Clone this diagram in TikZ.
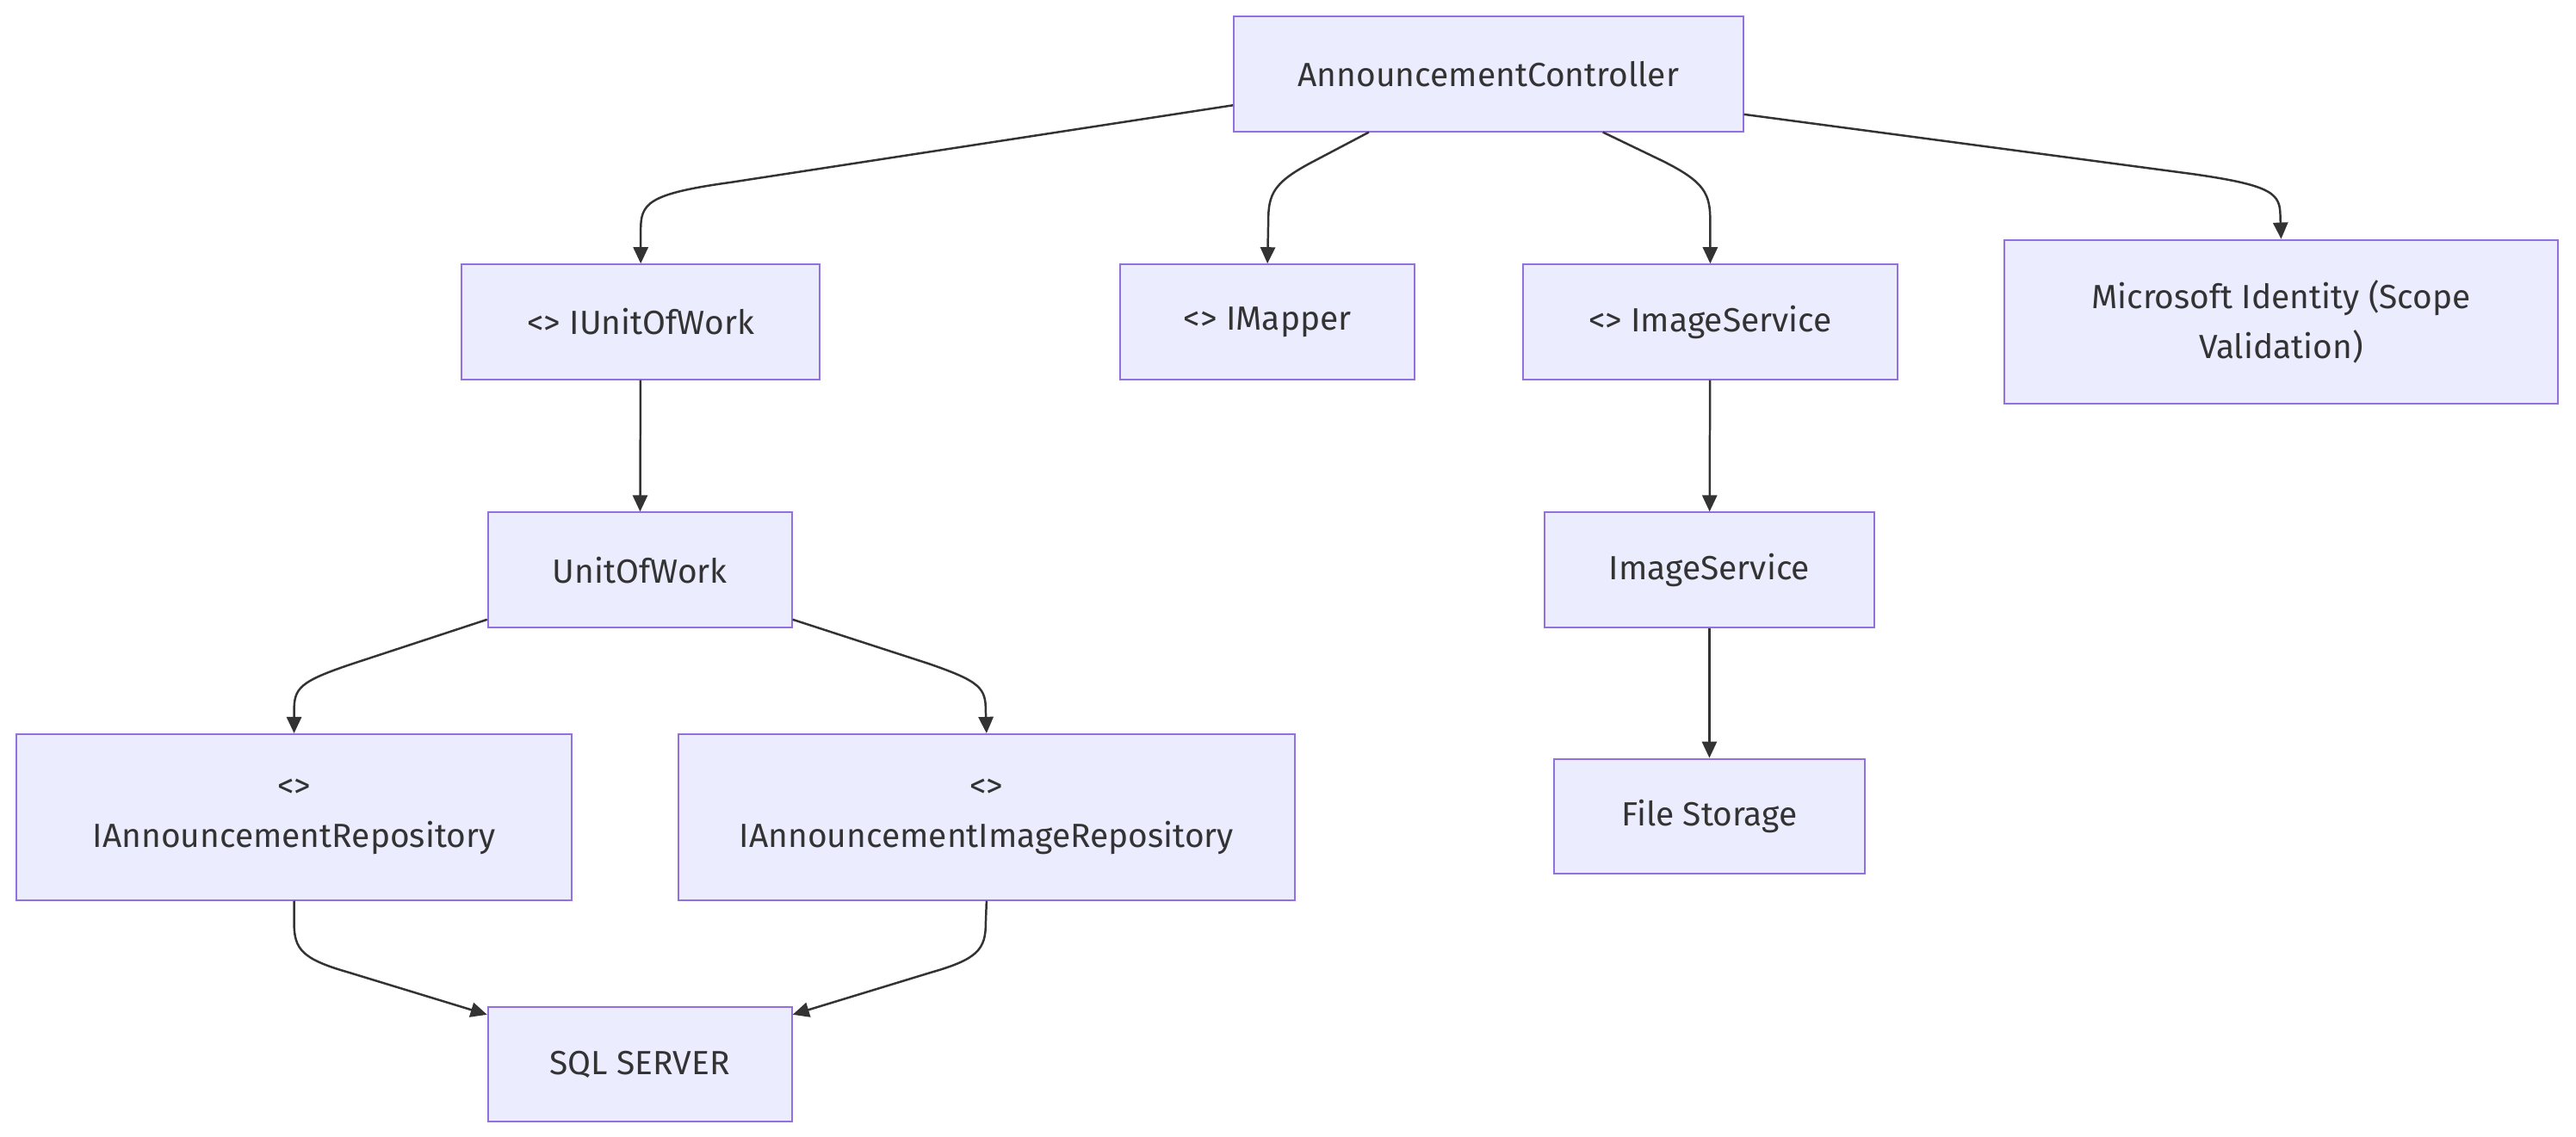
\documentclass[tikz,border=0pt]{standalone}
\usepackage{fontspec}
\setmainfont{Fira Sans}
\usepackage{tikz}
\usetikzlibrary{arrows.meta}
\definecolor{boxfill}{HTML}{ECECFF}
\definecolor{boxline}{HTML}{9370DB}
\definecolor{ink}{HTML}{333333}
\begin{document}
\begin{tikzpicture}[x=1pt, y=-1pt,
		node_style/.style={rectangle,draw=boxline,fill=boxfill,line width=1pt,inner sep=0pt,
			text=ink,align=center,font=\fontsize{20.4}{30.5}\selectfont,minimum height=70pt},
		edge_style/.style={draw=ink,line width=1.3pt,-{Triangle[length=10pt,width=9pt]}}]

		\useasboundingbox[fill=white] (0,0) rectangle (1568,692);

		\node[node_style,minimum width=310pt] (ac) at (906,45)  {AnnouncementController};
		\node[node_style,minimum width=218pt] (iuow) at (390,196)  {<> IUnitOfWork};
		\node[node_style,minimum width=179pt] (imap) at (771.5,196)  {<> IMapper};
		\node[node_style,minimum width=228pt] (iimg) at (1041,196)  {<> ImageService};
		\node[node_style,minimum width=337pt,minimum height=100pt] (msid) at (1388.5,196)  {Microsoft Identity (Scope\\Validation)};
		\node[node_style,minimum width=185pt] (uow) at (389.5,347)  {UnitOfWork};
		\node[node_style,minimum width=201pt] (img) at (1040.5,347)  {ImageService};
		\node[node_style,minimum width=338pt,minimum height=101pt] (iar) at (179,497.5)  {<>\\IAnnouncementRepository};
		\node[node_style,minimum width=375pt,minimum height=101pt] (iair) at (600.5,497.5)  {<>\\IAnnouncementImageRepository};
		\node[node_style,minimum width=189pt] (fs) at (1040.5,497)  {File Storage};
		\node[node_style,minimum width=185pt] (sql) at (389.5,648)  {SQL SERVER};

		\draw[edge_style]  (ac.187.7) -- (445,111) .. controls (394,118) and (390,124) .. (390,140) -- (iuow.north);
		\draw[edge_style]  (ac.206.6) -- (800,98) .. controls (775,111) and (772,118) .. (772,135) -- (imap.north);
		\draw[edge_style]  (ac.333.4) -- (1012,98) .. controls (1038,111) and (1041,118) .. (1041,135) -- (iimg.north);
		\draw[edge_style]  (ac.351.9) -- (1335,106) .. controls (1384,113) and (1388,118) .. (1388,132) -- (msid.north);
		\draw[edge_style]  (iuow) -- (uow);
		\draw[edge_style]  (uow.198) -- (215,404) .. controls (182,415) and (179,419) .. (179,433) -- (iar.north);
		\draw[edge_style]  (uow.342) -- (565,404) .. controls (597,415) and (600,419) .. (600,433) -- (iair.north);
		\draw[edge_style]  (iar.south) -- (179,562) .. controls (179,578) and (184,584) .. (212,592) -- (sql.162);
		\draw[edge_style]  (iair.south) -- (600,562) .. controls (600,578) and (595,584) .. (567,592) -- (sql.18);
		\draw[edge_style]  (iimg) -- (img);
		\draw[edge_style]  (img) -- (fs);
		\end{tikzpicture}
\end{document}
